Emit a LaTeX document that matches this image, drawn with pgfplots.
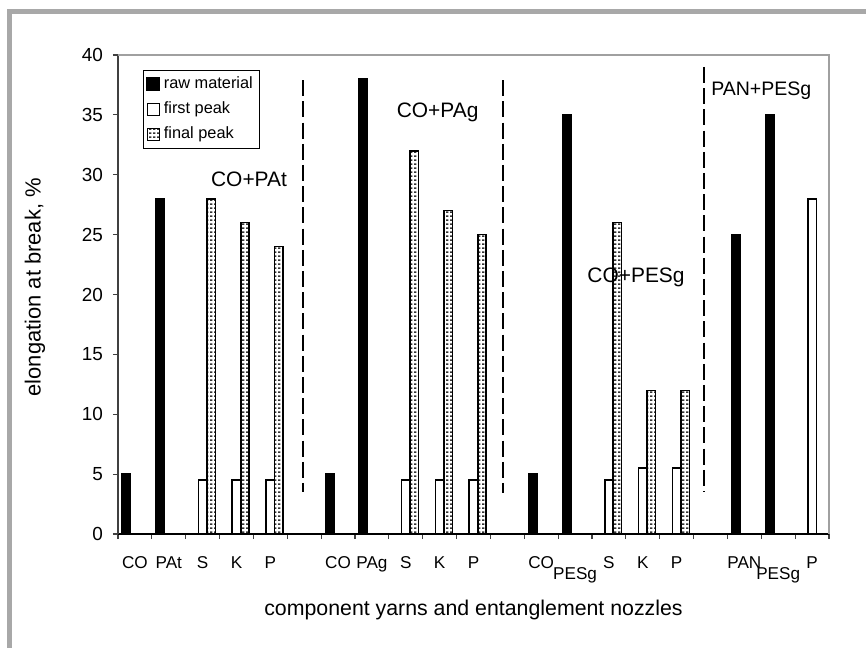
\documentclass[border=0pt]{standalone}
\usepackage{fontspec}
\setmainfont{Liberation Sans}
\usepackage{pgfplots}
\pgfplotsset{compat=1.18}
\usetikzlibrary{patterns}
\definecolor{framegray}{HTML}{A8A8A8}
\definecolor{boxgray}{HTML}{A0A0A0}

% white bar with small dark dashes ("final peak")
\pgfdeclarepatternformonly{ruler}{\pgfpointorigin}{\pgfpoint{2.2bp}{1.9bp}}{\pgfpoint{2.2bp}{1.9bp}}{
  \pgfsetlinewidth{0.75bp}
  \pgfpathmoveto{\pgfpoint{0bp}{0.95bp}}
  \pgfpathlineto{\pgfpoint{1.3bp}{0.95bp}}
  \pgfusepath{stroke}
}

\begin{document}
\begin{tikzpicture}
\begin{axis}[
  scale only axis,
  width=355.5bp, height=239.5bp,
  xmin=-0.5, xmax=20.5,
  ymin=0, ymax=40,
  clip=false,
  axis lines=left,
  axis line style={-},
  x axis line style={black, line width=0.7bp},
  y axis line style={black!75, line width=0.7bp},
  tick align=outside,
  major tick length=2.5bp,
  tick style={black!75, line width=0.6bp},
  ytick={0,5,...,40},
  yticklabel style={font=\fontsize{9.5}{11}\selectfont, xshift=-1.5bp},
  /pgf/number format/assume math mode=true,
  xtick={-0.5,0.5,...,20.5},
  xticklabels={},
  extra x ticks={0,1,...,20},
  extra x tick labels={CO,PAt,S,K,P,,CO,PAg,S,K,P,,CO,\raisebox{-5.75bp}{PESg},S,K,P,,PAN,\raisebox{-5.75bp}{PESg},P},
  extra x tick style={
    tick style={draw=none},
    xticklabel style={font=\fontsize{8.6}{10}\selectfont, anchor=base, yshift=-14.5bp}
  },
  xlabel={component yarns and entanglement nozzles},
  xlabel style={at={(axis description cs:0.5,-0.1587)}, anchor=center, font=\fontsize{10.7}{12}\selectfont},
  ylabel={elongation at break, \%},
  ylabel style={at={(axis description cs:-0.1167,0.515)}, anchor=center, font=\fontsize{11}{13}\selectfont},
  legend cell align=left,
  legend style={
    at={(axis description cs:0.0357,0.969)}, anchor=north west,
    draw=black, line width=0.5bp,
    font=\fontsize{8.2}{9.5}\selectfont,
    inner sep=1.2bp, row sep=1.2bp,
  },
]
\addplot[ybar, bar width=0.25, bar shift=-0.25, fill=black, draw=black, line width=0.8bp,
  legend image code/.code={\draw[fill=black, draw=black] (0bp,-3bp) rectangle (6bp,3bp);}]
  coordinates {(0,5) (1,28) (6,5) (7,38) (12,5) (13,35) (18,25) (19,35)};
\addlegendentry{raw material}
\addplot[ybar, bar width=0.25, bar shift=0, fill=white, draw=black, line width=0.8bp,
  legend image code/.code={\draw[fill=white, draw=black, line width=0.5bp] (0bp,-3bp) rectangle (6bp,3bp);}]
  coordinates {(2,4.5) (3,4.5) (4,4.5) (8,4.5) (9,4.5) (10,4.5) (14,4.5) (15,5.5) (16,5.5) (20,28)};
\addlegendentry{first peak}
\addplot[ybar, bar width=0.25, bar shift=0.25, pattern=ruler, pattern color=black!80, draw=black, line width=0.8bp,
  legend image code/.code={\draw[pattern=ruler, pattern color=black!80, draw=black, line width=0.5bp] (0bp,-3bp) rectangle (6bp,3bp);}]
  coordinates {(2,28) (3,26) (4,24) (8,32) (9,27) (10,25) (14,26) (15,12) (16,12)};
\addlegendentry{final peak}

% grey top and right edges of the plot area
\draw[boxgray, line width=0.7bp] (rel axis cs:0,1) -- (rel axis cs:1,1) -- (rel axis cs:1,0);

% dashed separators between the groups
\draw[black, line width=1bp, dash pattern=on 8bp off 2.6bp] (axis cs:4.96,37.9) -- (axis cs:4.96,3.5);
\draw[black, line width=1bp, dash pattern=on 8bp off 2.6bp] (axis cs:10.87,37.9) -- (axis cs:10.87,3.4);
\draw[black, line width=1bp, dash pattern=on 8bp off 2.6bp] (axis cs:16.8,39.0) -- (axis cs:16.8,3.5);

% group names
\node[font=\fontsize{10.5}{12}\selectfont, anchor=base] at (axis cs:3.37,28.98) {CO+PAt};
\node[font=\fontsize{10.5}{12}\selectfont, anchor=base] at (axis cs:8.94,34.82) {CO+PAg};
\node[font=\fontsize{10.5}{12}\selectfont, anchor=base] at (axis cs:14.8,21.04) {CO+PESg};
\node[font=\fontsize{9.8}{12}\selectfont, anchor=base] at (axis cs:18.5,36.58) {PAN+PESg};
\end{axis}

% outer grey frame (left and top edges)
\draw[framegray, line width=2.5bp] (-54.25bp,-60bp) -- (-54.25bp,261bp) -- (380bp,261bp);

\pgfresetboundingbox
\path[use as bounding box] (-59bp,-57bp) rectangle (374bp,267bp);
\end{tikzpicture}
\end{document}
